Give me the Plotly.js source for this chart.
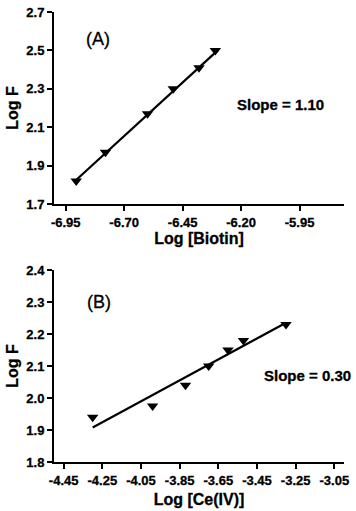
<!DOCTYPE html>
<html><head><meta charset="utf-8">
<script src="https://cdn.plot.ly/plotly-3.0.1.min.js"></script>
<style>html,body{margin:0;padding:0;background:#fff}#c{width:356px;height:511px}
#c svg text{stroke:#000;stroke-width:0.3px}</style>
</head><body><div id="c"></div>
<script>
// Panel A: Log [Biotin] vs Log F
var biotinX = [-6.905, -6.78, -6.60, -6.49, -6.38, -6.31];
var biotinY = [1.82, 1.97, 2.17, 2.30, 2.41, 2.50];
var fitAX = [-6.91, -6.30];
var fitAY = [1.82, 2.50];
// Panel B: Log [Ce(IV)] vs Log F
var ceX = [-4.30, -3.99, -3.82, -3.70, -3.60, -3.52, -3.30];
var ceY = [1.94, 1.975, 2.04, 2.10, 2.15, 2.18, 2.23];
var fitBX = [-4.30, -3.30];
var fitBY = [1.908, 2.235];
// tick labels
var xTicksA = [-6.95, -6.70, -6.45, -6.20, -5.95];
var xLabelsA = ['-6.95', '-6.70', '-6.45', '-6.20', '-5.95'];
var yTicksA = [1.7, 1.9, 2.1, 2.3, 2.5, 2.7];
var yLabelsA = ['1.7', '1.9', '2.1', '2.3', '2.5', '2.7'];
var xTicksB = [-4.45, -4.25, -4.05, -3.85, -3.65, -3.45, -3.25, -3.05];
var xLabelsB = ['-4.45', '-4.25', '-4.05', '-3.85', '-3.65', '-3.45', '-3.25', '-3.05'];
var yTicksB = [1.8, 1.9, 2.0, 2.1, 2.2, 2.3, 2.4];
var yLabelsB = ['1.8', '1.9', '2.0', '2.1', '2.2', '2.3', '2.4'];

var F = 'Arial, "Liberation Sans", sans-serif';
function tickFont() { return {family: F, size: 13, color: '#000', weight: 'bold'}; }
function titleFont() { return {family: F, size: 16, color: '#000', weight: 'bold'}; }

function lineTrace(x, y, xa, ya) {
  return {x: x, y: y, xaxis: xa, yaxis: ya, mode: 'lines', type: 'scatter',
    line: {color: '#000', width: 2.2}, hoverinfo: 'skip', showlegend: false};
}
function ptTrace(x, y, xa, ya) {
  return {x: x, y: y, xaxis: xa, yaxis: ya, mode: 'markers', type: 'scatter',
    marker: {symbol: 'triangle-down', size: 10, color: '#000'}, showlegend: false};
}
var data = [
  lineTrace(fitAX, fitAY, 'x', 'y'), ptTrace(biotinX, biotinY, 'x', 'y'),
  lineTrace(fitBX, fitBY, 'x2', 'y2'), ptTrace(ceX, ceY, 'x2', 'y2')
];
function ax(extra) {
  var a = {showline: true, linecolor: '#000', linewidth: 2, ticks: 'outside',
    ticklen: 5, tickwidth: 2, tickcolor: '#000', showgrid: false, zeroline: false,
    tickfont: tickFont(), fixedrange: true, mirror: false};
  for (var k in extra) a[k] = extra[k];
  return a;
}
var layout = {
  width: 356, height: 511,
  margin: {l: 54, r: 12, t: 12, b: 49},
  paper_bgcolor: '#fff', plot_bgcolor: '#fff',
  showlegend: false,
  xaxis: ax({domain: [0, 1], range: [-7.0, -5.76], tickmode: 'array', tickvals: xTicksA, ticktext: xLabelsA,
    anchor: 'y', title: {text: 'Log [Biotin]', font: titleFont(), standoff: 0}}),
  yaxis: ax({domain: [0.5733, 1], range: [1.7, 2.7], tickmode: 'array', tickvals: yTicksA, ticktext: yLabelsA,
    anchor: 'x', title: {text: 'Log F', font: titleFont(), standoff: 4}}),
  xaxis2: ax({domain: [0, 1], range: [-4.5, -3.0], tickmode: 'array', tickvals: xTicksB, ticktext: xLabelsB,
    anchor: 'y2', title: {text: 'Log [Ce(IV)]', font: titleFont(), standoff: 7}}),
  yaxis2: ax({domain: [0, 0.4267], range: [1.8, 2.4], tickmode: 'array', tickvals: yTicksB, ticktext: yLabelsB,
    anchor: 'x2', title: {text: 'Log F', font: titleFont(), standoff: 4}}),
  annotations: [
    {text: '(A)', xref: 'x', yref: 'y', x: -6.81, y: 2.56, showarrow: false,
      font: {family: F, size: 18, color: '#000'}},
    {text: 'Slope = 1.10', xref: 'x', yref: 'y', x: -6.03, y: 2.22, showarrow: false,
      font: {family: F, size: 15, color: '#000', weight: 'bold'}},
    {text: '(B)', xref: 'x2', yref: 'y2', x: -4.265, y: 2.30, showarrow: false,
      font: {family: F, size: 18, color: '#000'}},
    {text: 'Slope = 0.30', xref: 'x2', yref: 'y2', x: -3.19, y: 2.07, showarrow: false,
      font: {family: F, size: 15, color: '#000', weight: 'bold'}}
  ]
};
Plotly.newPlot('c', data, layout, {staticPlot: true, displayModeBar: false});
</script>
</body></html>
